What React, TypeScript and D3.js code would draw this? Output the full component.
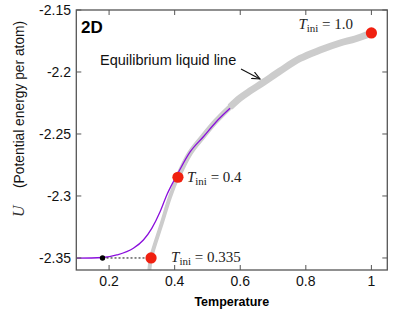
import React from "react";
import * as d3 from "d3";

const W = 415;
const H = 312;

// Equilibrium liquid line (thick gray)
const eqT = [0.3229, 0.328, 0.3607, 0.386, 0.4095, 0.447, 0.4876, 0.5263, 0.569, 0.5995, 0.63, 0.6697, 0.7215, 0.7825, 0.8435, 0.9045, 0.95, 0.999];
const eqU = [-2.3597, -2.3498, -2.322, -2.3006, -2.2849, -2.2653, -2.2516, -2.2395, -2.2282, -2.221, -2.2153, -2.2085, -2.1992, -2.1891, -2.1823, -2.1766, -2.1734, -2.1688];

// Cooling curve (purple)
const coolT = [0.1, 0.18, 0.2235, 0.274, 0.3046, 0.3302, 0.3555, 0.376, 0.396, 0.4113, 0.447, 0.4876, 0.5263, 0.569];
const coolU = [-2.3502, -2.3496, -2.3476, -2.3422, -2.3355, -2.3261, -2.3127, -2.2992, -2.2885, -2.281, -2.2645, -2.2522, -2.2403, -2.2293];

// Highlighted initial temperatures (red dots)
const iniT = [0.328, 0.41, 1.0];
const iniU = [-2.35, -2.2849, -2.1685];
const iniLabels = ["0.335", "0.4", "1.0"];

// Black dot
const blackT = 0.18;
const blackU = -2.35;

const xTicks = [0.2, 0.4, 0.6, 0.8, 1];
const yTicks = [-2.15, -2.2, -2.25, -2.3, -2.35];

export default function App() {
  const left = 76.3, right = 387.3, top = 10, bottom = 270;
  const x = d3.scaleLinear().domain([0.1, 1.0485]).range([left, right]);
  const y = d3.scaleLinear().domain([-2.3597, -2.1500]).range([bottom, top]);

  const eqIdx = eqT.map((_, i) => i);
  const seg = (a: number, b: number) =>
    d3.line<number>().x((i) => x(eqT[i])).y((i) => y(eqU[i])).curve(d3.curveCatmullRom.alpha(0.5))(eqIdx.slice(a, b + 1)) || "";
  const coolLine = d3.line<number>().x((_, i) => x(coolT[i])).y((_, i) => y(coolU[i])).curve(d3.curveMonotoneX);

  const frame = "#555";
  const tickLen = 5;
  const sans = "Liberation Sans, Arial, Helvetica, sans-serif";
  const serif = "Liberation Serif, Times New Roman, serif";

  const labelPos = [
    { dx: 20, dy: 4 },
    { dx: 9, dy: 5 },
    { dx: -73, dy: -4 },
  ];

  return (
    <svg width={W} height={H} style={{ position: "absolute", left: 0, top: 0, background: "#fff" }}>
      <defs>
        <clipPath id="plotClip">
          <rect x={left} y={top} width={right - left} height={bottom - top} />
        </clipPath>
        <marker id="arrow" viewBox="0 0 10 10" refX="9" refY="5" markerWidth="9" markerHeight="9" orient="auto" markerUnits="userSpaceOnUse">
          <path d="M0,1 L9,5 L0,9" fill="none" stroke="#111" strokeWidth={1.2} />
        </marker>
      </defs>

      <g clipPath="url(#plotClip)" fill="none" stroke="#cccccc" strokeLinejoin="round">
        <path d={seg(0, 5)} strokeWidth={4} />
        <path d={seg(4, 9)} strokeWidth={5.5} />
        <path d={seg(8, eqT.length - 1)} strokeWidth={7} />
      </g>
      <g clipPath="url(#plotClip)">
        <path d={coolLine(coolT) || ""} fill="none" stroke="#8a0fdc" strokeWidth={1.3} />
      </g>

      <line x1={x(blackT)} y1={y(blackU)} x2={x(iniT[0])} y2={y(iniU[0])} stroke="#111" strokeWidth={1} strokeDasharray="2,2" />
      <circle cx={x(blackT)} cy={y(blackU)} r={2.7} fill="#000" />
      {iniT.map((t, i) => (
        <circle key={i} cx={x(t)} cy={y(iniU[i])} r={5.6} fill="#f02010" />
      ))}

      {iniT.map((t, i) => (
        <text key={"l" + i} x={x(t) + labelPos[i].dx} y={y(iniU[i]) + labelPos[i].dy} fontFamily={serif} fontSize={15} fill="#222">
          <tspan fontStyle="italic">T</tspan>
          <tspan fontSize={11} dy={3}>ini</tspan>
          <tspan dy={-3}>{" = " + iniLabels[i]}</tspan>
        </text>
      ))}

      {/* frame */}
      <rect x={left} y={top} width={right - left} height={bottom - top} fill="none" stroke={frame} strokeWidth={1.3} />

      {xTicks.map((t) => (
        <g key={"x" + t}>
          <line x1={x(t)} x2={x(t)} y1={bottom} y2={bottom - tickLen} stroke={frame} strokeWidth={1} />
          <line x1={x(t)} x2={x(t)} y1={top} y2={top + tickLen} stroke={frame} strokeWidth={1} />
          <text x={x(t)} y={286} textAnchor="middle" fontFamily={sans} fontSize={14} fill="#111">{String(t)}</text>
        </g>
      ))}
      {yTicks.map((u) => (
        <g key={"y" + u}>
          <line x1={left} x2={left + tickLen} y1={y(u)} y2={y(u)} stroke={frame} strokeWidth={1} />
          <line x1={right} x2={right - tickLen} y1={y(u)} y2={y(u)} stroke={frame} strokeWidth={1} />
          <text x={71} y={y(u) + 5} textAnchor="end" fontFamily={sans} fontSize={14} fill="#111">{String(u)}</text>
        </g>
      ))}

      <text x={81} y={33} fontFamily={sans} fontSize={17} fontWeight="bold" fill="#000">2D</text>

      <text x={100} y={65} fontFamily={sans} fontSize={14.5} fill="#111">Equilibrium liquid line</text>
      <line x1={241} y1={69} x2={260} y2={79} stroke="#111" strokeWidth={1.1} markerEnd="url(#arrow)" />

      <text x={(left + right) / 2} y={306} textAnchor="middle" fontFamily={sans} fontSize={12.5} fontWeight="bold" fill="#000">Temperature</text>

      <g transform="translate(24,0) rotate(-90)">
        <text x={-217} y={0} fontFamily={serif} fontStyle="italic" fontSize={16} fill="#333">U</text>
        <text x={-188} y={0} fontFamily={sans} fontSize={13.8} fill="#111">(Potential energy per atom)</text>
      </g>
    </svg>
  );
}
